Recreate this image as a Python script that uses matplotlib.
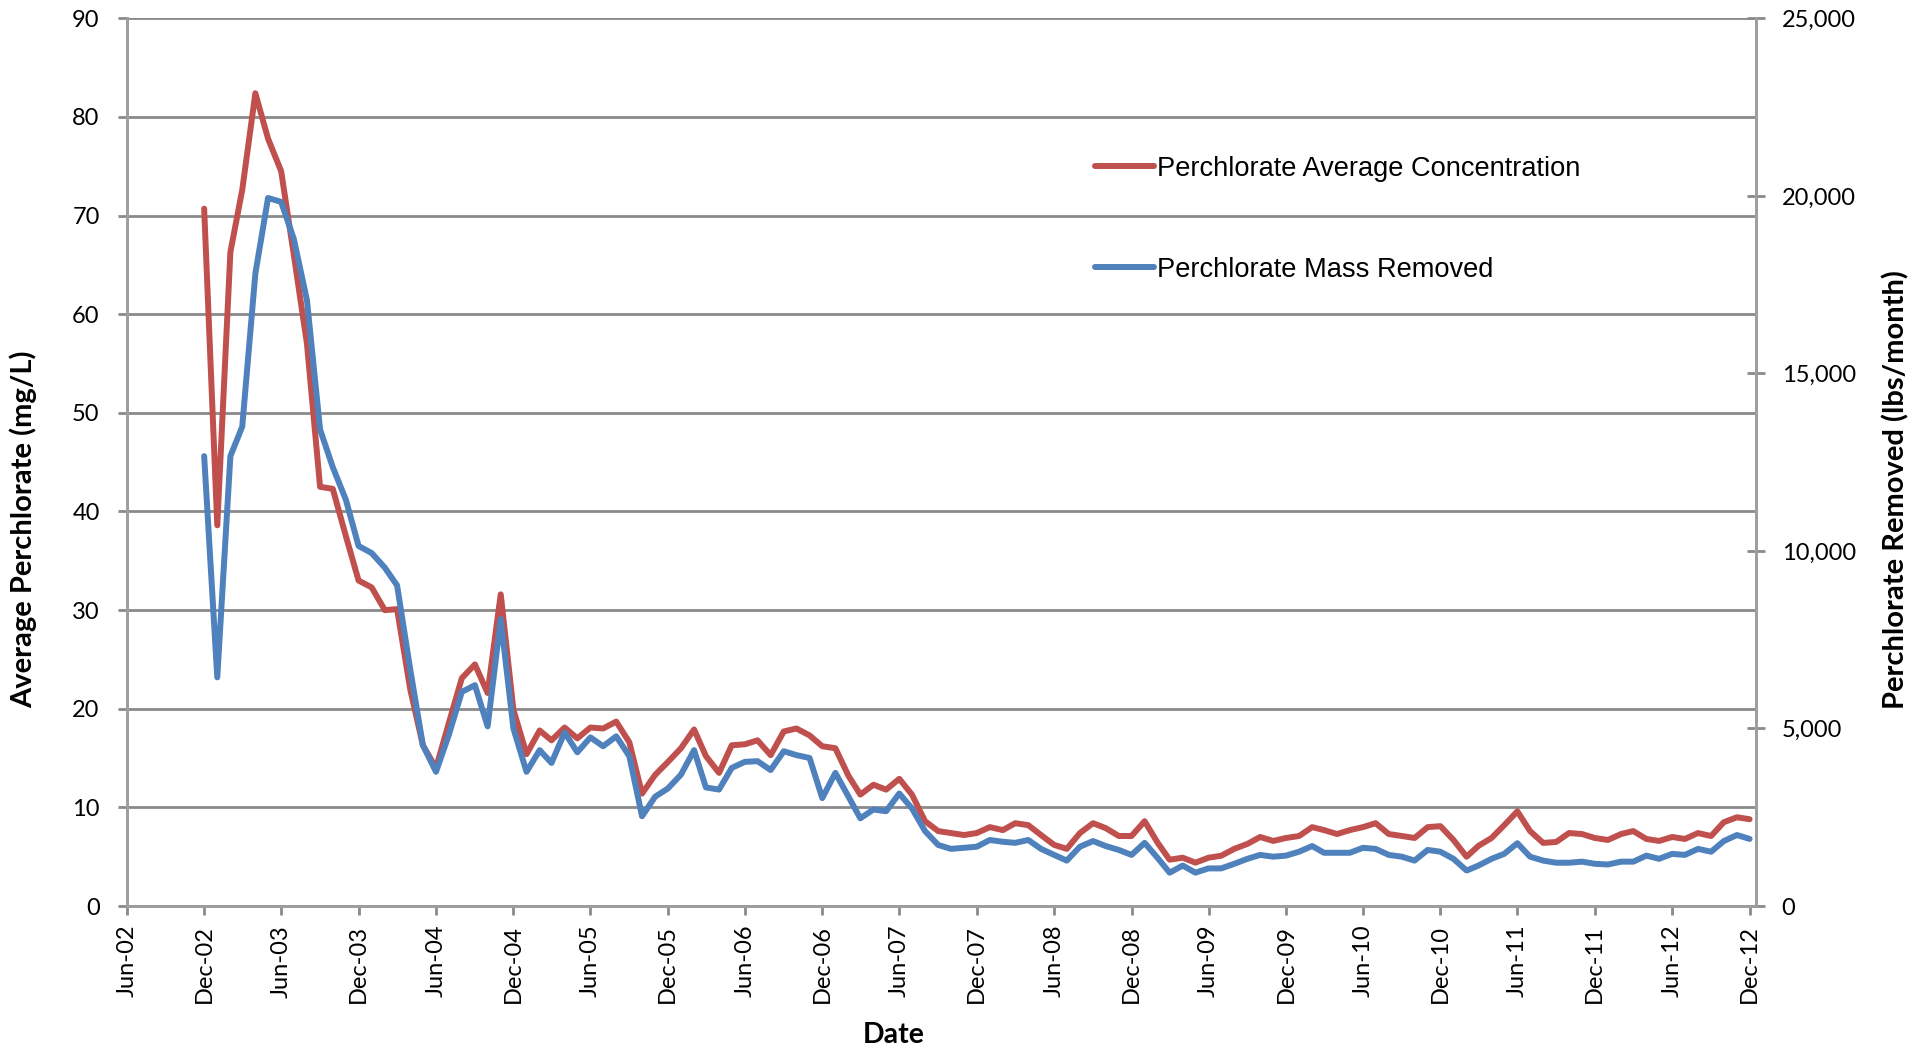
import matplotlib
matplotlib.use("Agg")
import matplotlib.pyplot as plt
import matplotlib.dates as mdates
from matplotlib.ticker import MultipleLocator, StrMethodFormatter
import pandas as pd

# ---------------- data ----------------
start_month = "2002-12-01"
n_months = 121

concentration_mg_l = [
    70.7, 38.6, 66.3, 72.6, 82.4, 77.8, 74.5, 66.0, 57.0, 42.5,
    42.3, 37.5, 33.0, 32.3, 30.0, 30.1, 22.0, 16.3, 14.0, 18.5,
    23.1, 24.5, 21.6, 31.6, 19.9, 15.4, 17.8, 16.8, 18.1, 17.0,
    18.1, 18.0, 18.7, 16.6, 11.4, 13.3, 14.6, 16.0, 17.9, 15.2,
    13.5, 16.3, 16.4, 16.8, 15.3, 17.7, 18.0, 17.3, 16.2, 16.0,
    13.2, 11.3, 12.3, 11.8, 12.9, 11.3, 8.6, 7.6, 7.4, 7.2,
    7.4, 8.0, 7.7, 8.4, 8.2, 7.2, 6.2, 5.8, 7.4, 8.4,
    7.9, 7.1, 7.1, 8.6, 6.4, 4.7, 4.9, 4.4, 4.9, 5.1,
    5.8, 6.3, 7.0, 6.6, 6.9, 7.1, 8.0, 7.7, 7.3, 7.7,
    8.0, 8.4, 7.3, 7.1, 6.9, 8.0, 8.1, 6.7, 5.0, 6.1,
    6.9, 8.2, 9.6, 7.6, 6.4, 6.5, 7.4, 7.3, 6.9, 6.7,
    7.3, 7.6, 6.8, 6.6, 7.0, 6.8, 7.4, 7.1, 8.5, 9.0,
    8.8,
]

mass_removed_lbs = [
    12670, 6440, 12670, 13500, 17810, 19940, 19830, 18780, 17060, 13420,
    12360, 11440, 10140, 9940, 9530, 9030, 6670, 4530, 3780, 4810,
    6030, 6220, 5060, 8080, 5000, 3780, 4390, 4030, 4890, 4330,
    4750, 4500, 4780, 4220, 2530, 3080, 3310, 3700, 4390, 3340,
    3280, 3890, 4060, 4080, 3830, 4360, 4250, 4170, 3040, 3750,
    3080, 2470, 2720, 2670, 3170, 2750, 2110, 1720, 1610, 1640,
    1670, 1860, 1810, 1780, 1860, 1610, 1440, 1280, 1670, 1830,
    1690, 1580, 1440, 1780, 1350, 940, 1140, 940, 1060, 1060,
    1190, 1330, 1440, 1390, 1420, 1530, 1690, 1500, 1500, 1500,
    1640, 1610, 1440, 1390, 1280, 1580, 1530, 1330, 1000, 1140,
    1330, 1470, 1770, 1390, 1280, 1220, 1220, 1250, 1190, 1170,
    1250, 1250, 1420, 1330, 1470, 1440, 1610, 1530, 1830, 2000,
    1890,
]

conc_label = "Perchlorate Average Concentration"
mass_label = "Perchlorate Mass Removed"
x_title = "Date"
left_title = "Average Perchlorate (mg/L)"
right_title = "Perchlorate Removed (lbs/month)"

dates = pd.date_range(start_month, periods=n_months, freq="MS")

# ---------------- style ----------------
RED = "#C0504D"
BLUE = "#4F81BD"
GRID = "#8A8A8A"
SPINE = "#9E9E9E"
TICK_FONT = ["Lato", "DejaVu Sans"]
TITLE_FONT = ["Lato", "DejaVu Sans"]
LEG_FONT = ["Liberation Sans", "DejaVu Sans"]

fig = plt.figure(figsize=(19.29, 10.50), dpi=100)
ax = fig.add_axes([0.0657, 0.1371, 0.9103 - 0.0657, 0.98257 - 0.1371])
ax2 = ax.twinx()

l1, = ax.plot(dates, concentration_mg_l, color=RED, lw=4.3,
              solid_joinstyle="round", solid_capstyle="round", label=conc_label, zorder=3)
l2, = ax2.plot(dates, mass_removed_lbs, color=BLUE, lw=4.3,
               solid_joinstyle="round", solid_capstyle="round", label=mass_label, zorder=3)

ax.set_ylim(0, 90)
ax2.set_ylim(0, 25000)
ax.set_xlim(pd.Timestamp("2002-06-01"), pd.Timestamp("2012-12-16"))

ax.yaxis.set_major_locator(MultipleLocator(10))
ax2.yaxis.set_major_locator(MultipleLocator(5000))
ax2.yaxis.set_major_formatter(StrMethodFormatter("{x:,.0f}"))
ax.xaxis.set_major_locator(mdates.MonthLocator(bymonth=[6, 12]))
ax.xaxis.set_major_formatter(mdates.DateFormatter("%b-%y"))

ax.grid(axis="y", color=GRID, lw=2.0, zorder=0)
ax.set_axisbelow(True)

for a in (ax, ax2):
    a.spines["top"].set_visible(False)
    for s in ("left", "right", "bottom"):
        a.spines[s].set_color(SPINE)
        a.spines[s].set_linewidth(2.0)

ax.tick_params(axis="y", direction="out", length=6.5, width=2.0, color=GRID,
               pad=13, labelsize=17)
ax.tick_params(axis="x", direction="out", length=6.5, width=2.0, color=GRID,
               pad=7, labelsize=17, labelrotation=90)
ax2.tick_params(axis="y", direction="inout", length=13, width=2.0, color=GRID,
                pad=12, labelsize=17)

for lab in ax.get_xticklabels() + ax.get_yticklabels() + ax2.get_yticklabels():
    lab.set_fontfamily(TICK_FONT)

ax.set_xlabel(x_title, fontsize=20.5, fontweight="bold", family=TITLE_FONT, va="center")
ax.xaxis.set_label_coords(0.471, -0.1453)
ax.set_ylabel(left_title, fontsize=21, fontweight="bold", family=TITLE_FONT, va="center")
ax.yaxis.set_label_coords(-0.0633, 0.4247)
ax2.set_ylabel(right_title, fontsize=21, fontweight="bold", family=TITLE_FONT,
               va="center", rotation=90)
ax2.yaxis.set_label_coords(1.0859, 0.4686)

leg = fig.legend(handles=[l1, l2], loc="upper left",
                 bbox_to_anchor=(1095 / 1929, 1 - 156 / 1050),
                 frameon=False, borderpad=0, borderaxespad=0,
                 handlelength=2.15, handletextpad=0.12, labelspacing=2.75,
                 prop={"family": LEG_FONT, "size": 19.6})

fig.savefig("out.png", dpi=100, facecolor="white")
